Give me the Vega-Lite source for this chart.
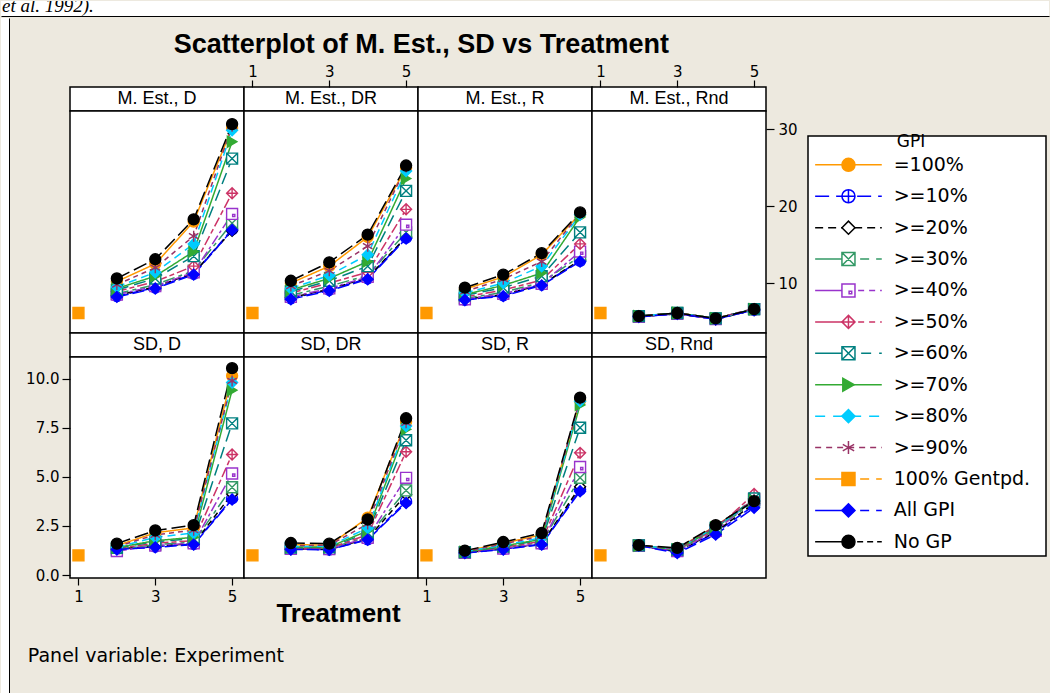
{
 "$schema": "https://vega.github.io/schema/vega-lite/v6.json",
 "background": "#EDE9DF",
 "padding": 0,
 "spacing": 0,
 "config": {
  "font": "DejaVu Sans",
  "view": {"stroke": "black", "strokeWidth": 1.5, "fill": "white"},
  "axis": {"domain": false, "grid": false, "labelFont": "DejaVu Sans", "labelFontSize": 15, "labelColor": "black", "tickColor": "black", "tickWidth": 1.2, "tickSize": 8, "labelPadding": 3, "labelFlush": false, "labelOverlap": false, "titleColor": "black"},
  "title": {"color": "black"}
 },
 "datasets": {
  "notes": [{"note": "et al. 1992)."}],
  "panels": [{"panel": "M. Est., D"}, {"panel": "M. Est., DR"}, {"panel": "M. Est., R"}, {"panel": "M. Est., Rnd"}, {"panel": "SD, D"}, {"panel": "SD, DR"}, {"panel": "SD, R"}, {"panel": "SD, Rnd"}],
  "series": [{"series": "=100%"}, {"series": ">=10%"}, {"series": ">=20%"}, {"series": ">=30%"}, {"series": ">=40%"}, {"series": ">=50%"}, {"series": ">=60%"}, {"series": ">=70%"}, {"series": ">=80%"}, {"series": ">=90%"}, {"series": "100% Gentpd."}, {"series": "All GPI"}, {"series": "No GP"}],
  "main": [
   {"panel":"M. Est., D","series":"100% Gentpd.","treatment":1,"value":6.1},
   {"panel":"M. Est., D","series":"=100%","treatment":2,"value":10.2},{"panel":"M. Est., D","series":"=100%","treatment":3,"value":12.5},{"panel":"M. Est., D","series":"=100%","treatment":4,"value":18.0},{"panel":"M. Est., D","series":"=100%","treatment":5,"value":30.2},
   {"panel":"M. Est., D","series":">=10%","treatment":2,"value":8.3},{"panel":"M. Est., D","series":">=10%","treatment":3,"value":9.4},{"panel":"M. Est., D","series":">=10%","treatment":4,"value":11.2},{"panel":"M. Est., D","series":">=10%","treatment":5,"value":17.0},
   {"panel":"M. Est., D","series":">=20%","treatment":2,"value":8.4},{"panel":"M. Est., D","series":">=20%","treatment":3,"value":9.5},{"panel":"M. Est., D","series":">=20%","treatment":4,"value":11.3},{"panel":"M. Est., D","series":">=20%","treatment":5,"value":16.8},
   {"panel":"M. Est., D","series":">=30%","treatment":2,"value":8.6},{"panel":"M. Est., D","series":">=30%","treatment":3,"value":9.8},{"panel":"M. Est., D","series":">=30%","treatment":4,"value":11.6},{"panel":"M. Est., D","series":">=30%","treatment":5,"value":17.8},
   {"panel":"M. Est., D","series":">=40%","treatment":2,"value":8.5},{"panel":"M. Est., D","series":">=40%","treatment":3,"value":9.6},{"panel":"M. Est., D","series":">=40%","treatment":4,"value":11.4},{"panel":"M. Est., D","series":">=40%","treatment":5,"value":19.0},
   {"panel":"M. Est., D","series":">=50%","treatment":2,"value":8.9},{"panel":"M. Est., D","series":">=50%","treatment":3,"value":10.2},{"panel":"M. Est., D","series":">=50%","treatment":4,"value":12.2},{"panel":"M. Est., D","series":">=50%","treatment":5,"value":21.7},
   {"panel":"M. Est., D","series":">=60%","treatment":2,"value":9.1},{"panel":"M. Est., D","series":">=60%","treatment":3,"value":10.6},{"panel":"M. Est., D","series":">=60%","treatment":4,"value":13.5},{"panel":"M. Est., D","series":">=60%","treatment":5,"value":26.2},
   {"panel":"M. Est., D","series":">=70%","treatment":2,"value":9.3},{"panel":"M. Est., D","series":">=70%","treatment":3,"value":10.9},{"panel":"M. Est., D","series":">=70%","treatment":4,"value":14.1},{"panel":"M. Est., D","series":">=70%","treatment":5,"value":28.4},
   {"panel":"M. Est., D","series":">=80%","treatment":2,"value":9.5},{"panel":"M. Est., D","series":">=80%","treatment":3,"value":11.4},{"panel":"M. Est., D","series":">=80%","treatment":4,"value":15.1},{"panel":"M. Est., D","series":">=80%","treatment":5,"value":29.9},
   {"panel":"M. Est., D","series":">=90%","treatment":2,"value":9.8},{"panel":"M. Est., D","series":">=90%","treatment":3,"value":12.0},{"panel":"M. Est., D","series":">=90%","treatment":4,"value":16.1},{"panel":"M. Est., D","series":">=90%","treatment":5,"value":30.4},
   {"panel":"M. Est., D","series":"All GPI","treatment":2,"value":8.2},{"panel":"M. Est., D","series":"All GPI","treatment":3,"value":9.3},{"panel":"M. Est., D","series":"All GPI","treatment":4,"value":11.1},{"panel":"M. Est., D","series":"All GPI","treatment":5,"value":16.9},
   {"panel":"M. Est., D","series":"No GP","treatment":2,"value":10.6},{"panel":"M. Est., D","series":"No GP","treatment":3,"value":13.1},{"panel":"M. Est., D","series":"No GP","treatment":4,"value":18.3},{"panel":"M. Est., D","series":"No GP","treatment":5,"value":30.7},

   {"panel":"M. Est., DR","series":"100% Gentpd.","treatment":1,"value":6.1},
   {"panel":"M. Est., DR","series":"=100%","treatment":2,"value":10.0},{"panel":"M. Est., DR","series":"=100%","treatment":3,"value":12.2},{"panel":"M. Est., DR","series":"=100%","treatment":4,"value":16.0},{"panel":"M. Est., DR","series":"=100%","treatment":5,"value":25.0},
   {"panel":"M. Est., DR","series":">=10%","treatment":2,"value":8.0},{"panel":"M. Est., DR","series":">=10%","treatment":3,"value":9.1},{"panel":"M. Est., DR","series":">=10%","treatment":4,"value":10.6},{"panel":"M. Est., DR","series":">=10%","treatment":5,"value":15.9},
   {"panel":"M. Est., DR","series":">=20%","treatment":2,"value":8.1},{"panel":"M. Est., DR","series":">=20%","treatment":3,"value":9.2},{"panel":"M. Est., DR","series":">=20%","treatment":4,"value":10.7},{"panel":"M. Est., DR","series":">=20%","treatment":5,"value":16.0},
   {"panel":"M. Est., DR","series":">=30%","treatment":2,"value":8.4},{"panel":"M. Est., DR","series":">=30%","treatment":3,"value":9.6},{"panel":"M. Est., DR","series":">=30%","treatment":4,"value":11.0},{"panel":"M. Est., DR","series":">=30%","treatment":5,"value":16.6},
   {"panel":"M. Est., DR","series":">=40%","treatment":2,"value":8.2},{"panel":"M. Est., DR","series":">=40%","treatment":3,"value":9.3},{"panel":"M. Est., DR","series":">=40%","treatment":4,"value":10.8},{"panel":"M. Est., DR","series":">=40%","treatment":5,"value":17.6},
   {"panel":"M. Est., DR","series":">=50%","treatment":2,"value":8.7},{"panel":"M. Est., DR","series":">=50%","treatment":3,"value":10.0},{"panel":"M. Est., DR","series":">=50%","treatment":4,"value":11.4},{"panel":"M. Est., DR","series":">=50%","treatment":5,"value":19.6},
   {"panel":"M. Est., DR","series":">=60%","treatment":2,"value":8.9},{"panel":"M. Est., DR","series":">=60%","treatment":3,"value":10.3},{"panel":"M. Est., DR","series":">=60%","treatment":4,"value":12.2},{"panel":"M. Est., DR","series":">=60%","treatment":5,"value":22.0},
   {"panel":"M. Est., DR","series":">=70%","treatment":2,"value":9.1},{"panel":"M. Est., DR","series":">=70%","treatment":3,"value":10.6},{"panel":"M. Est., DR","series":">=70%","treatment":4,"value":12.8},{"panel":"M. Est., DR","series":">=70%","treatment":5,"value":23.6},
   {"panel":"M. Est., DR","series":">=80%","treatment":2,"value":9.3},{"panel":"M. Est., DR","series":">=80%","treatment":3,"value":11.0},{"panel":"M. Est., DR","series":">=80%","treatment":4,"value":13.7},{"panel":"M. Est., DR","series":">=80%","treatment":5,"value":24.6},
   {"panel":"M. Est., DR","series":">=90%","treatment":2,"value":9.6},{"panel":"M. Est., DR","series":">=90%","treatment":3,"value":11.6},{"panel":"M. Est., DR","series":">=90%","treatment":4,"value":14.8},{"panel":"M. Est., DR","series":">=90%","treatment":5,"value":25.1},
   {"panel":"M. Est., DR","series":"All GPI","treatment":2,"value":7.9},{"panel":"M. Est., DR","series":"All GPI","treatment":3,"value":9.0},{"panel":"M. Est., DR","series":"All GPI","treatment":4,"value":10.5},{"panel":"M. Est., DR","series":"All GPI","treatment":5,"value":15.8},
   {"panel":"M. Est., DR","series":"No GP","treatment":2,"value":10.3},{"panel":"M. Est., DR","series":"No GP","treatment":3,"value":12.7},{"panel":"M. Est., DR","series":"No GP","treatment":4,"value":16.3},{"panel":"M. Est., DR","series":"No GP","treatment":5,"value":25.3},

   {"panel":"M. Est., R","series":"100% Gentpd.","treatment":1,"value":6.1},
   {"panel":"M. Est., R","series":"=100%","treatment":2,"value":9.2},{"panel":"M. Est., R","series":"=100%","treatment":3,"value":10.8},{"panel":"M. Est., R","series":"=100%","treatment":4,"value":13.7},{"panel":"M. Est., R","series":"=100%","treatment":5,"value":19.0},
   {"panel":"M. Est., R","series":">=10%","treatment":2,"value":7.8},{"panel":"M. Est., R","series":">=10%","treatment":3,"value":8.4},{"panel":"M. Est., R","series":">=10%","treatment":4,"value":9.8},{"panel":"M. Est., R","series":">=10%","treatment":5,"value":12.9},
   {"panel":"M. Est., R","series":">=20%","treatment":2,"value":7.9},{"panel":"M. Est., R","series":">=20%","treatment":3,"value":8.5},{"panel":"M. Est., R","series":">=20%","treatment":4,"value":9.8},{"panel":"M. Est., R","series":">=20%","treatment":5,"value":13.0},
   {"panel":"M. Est., R","series":">=30%","treatment":2,"value":8.0},{"panel":"M. Est., R","series":">=30%","treatment":3,"value":8.8},{"panel":"M. Est., R","series":">=30%","treatment":4,"value":10.1},{"panel":"M. Est., R","series":">=30%","treatment":5,"value":13.5},
   {"panel":"M. Est., R","series":">=40%","treatment":2,"value":7.9},{"panel":"M. Est., R","series":">=40%","treatment":3,"value":8.6},{"panel":"M. Est., R","series":">=40%","treatment":4,"value":9.9},{"panel":"M. Est., R","series":">=40%","treatment":5,"value":14.1},
   {"panel":"M. Est., R","series":">=50%","treatment":2,"value":8.2},{"panel":"M. Est., R","series":">=50%","treatment":3,"value":9.1},{"panel":"M. Est., R","series":">=50%","treatment":4,"value":10.4},{"panel":"M. Est., R","series":">=50%","treatment":5,"value":15.1},
   {"panel":"M. Est., R","series":">=60%","treatment":2,"value":8.4},{"panel":"M. Est., R","series":">=60%","treatment":3,"value":9.4},{"panel":"M. Est., R","series":">=60%","treatment":4,"value":10.9},{"panel":"M. Est., R","series":">=60%","treatment":5,"value":16.6},
   {"panel":"M. Est., R","series":">=70%","treatment":2,"value":8.5},{"panel":"M. Est., R","series":">=70%","treatment":3,"value":9.7},{"panel":"M. Est., R","series":">=70%","treatment":4,"value":11.3},{"panel":"M. Est., R","series":">=70%","treatment":5,"value":18.6},
   {"panel":"M. Est., R","series":">=80%","treatment":2,"value":8.7},{"panel":"M. Est., R","series":">=80%","treatment":3,"value":10.0},{"panel":"M. Est., R","series":">=80%","treatment":4,"value":12.2},{"panel":"M. Est., R","series":">=80%","treatment":5,"value":18.9},
   {"panel":"M. Est., R","series":">=90%","treatment":2,"value":8.9},{"panel":"M. Est., R","series":">=90%","treatment":3,"value":10.5},{"panel":"M. Est., R","series":">=90%","treatment":4,"value":12.8},{"panel":"M. Est., R","series":">=90%","treatment":5,"value":19.1},
   {"panel":"M. Est., R","series":"All GPI","treatment":2,"value":7.8},{"panel":"M. Est., R","series":"All GPI","treatment":3,"value":8.3},{"panel":"M. Est., R","series":"All GPI","treatment":4,"value":9.7},{"panel":"M. Est., R","series":"All GPI","treatment":5,"value":12.8},
   {"panel":"M. Est., R","series":"No GP","treatment":2,"value":9.4},{"panel":"M. Est., R","series":"No GP","treatment":3,"value":11.1},{"panel":"M. Est., R","series":"No GP","treatment":4,"value":13.9},{"panel":"M. Est., R","series":"No GP","treatment":5,"value":19.2},

   {"panel":"M. Est., Rnd","series":"100% Gentpd.","treatment":1,"value":6.1},
   {"panel":"M. Est., Rnd","series":"=100%","treatment":2,"value":5.7},{"panel":"M. Est., Rnd","series":"=100%","treatment":3,"value":6.1},{"panel":"M. Est., Rnd","series":"=100%","treatment":4,"value":5.4},{"panel":"M. Est., Rnd","series":"=100%","treatment":5,"value":6.6},
   {"panel":"M. Est., Rnd","series":">=10%","treatment":2,"value":5.6},{"panel":"M. Est., Rnd","series":">=10%","treatment":3,"value":6.0},{"panel":"M. Est., Rnd","series":">=10%","treatment":4,"value":5.3},{"panel":"M. Est., Rnd","series":">=10%","treatment":5,"value":6.5},
   {"panel":"M. Est., Rnd","series":">=20%","treatment":2,"value":5.6},{"panel":"M. Est., Rnd","series":">=20%","treatment":3,"value":6.0},{"panel":"M. Est., Rnd","series":">=20%","treatment":4,"value":5.3},{"panel":"M. Est., Rnd","series":">=20%","treatment":5,"value":6.5},
   {"panel":"M. Est., Rnd","series":">=30%","treatment":2,"value":5.7},{"panel":"M. Est., Rnd","series":">=30%","treatment":3,"value":6.1},{"panel":"M. Est., Rnd","series":">=30%","treatment":4,"value":5.4},{"panel":"M. Est., Rnd","series":">=30%","treatment":5,"value":6.6},
   {"panel":"M. Est., Rnd","series":">=40%","treatment":2,"value":5.6},{"panel":"M. Est., Rnd","series":">=40%","treatment":3,"value":6.0},{"panel":"M. Est., Rnd","series":">=40%","treatment":4,"value":5.3},{"panel":"M. Est., Rnd","series":">=40%","treatment":5,"value":6.6},
   {"panel":"M. Est., Rnd","series":">=50%","treatment":2,"value":5.7},{"panel":"M. Est., Rnd","series":">=50%","treatment":3,"value":6.1},{"panel":"M. Est., Rnd","series":">=50%","treatment":4,"value":5.4},{"panel":"M. Est., Rnd","series":">=50%","treatment":5,"value":6.6},
   {"panel":"M. Est., Rnd","series":">=60%","treatment":2,"value":5.7},{"panel":"M. Est., Rnd","series":">=60%","treatment":3,"value":6.1},{"panel":"M. Est., Rnd","series":">=60%","treatment":4,"value":5.4},{"panel":"M. Est., Rnd","series":">=60%","treatment":5,"value":6.6},
   {"panel":"M. Est., Rnd","series":">=70%","treatment":2,"value":5.7},{"panel":"M. Est., Rnd","series":">=70%","treatment":3,"value":6.1},{"panel":"M. Est., Rnd","series":">=70%","treatment":4,"value":5.4},{"panel":"M. Est., Rnd","series":">=70%","treatment":5,"value":6.6},
   {"panel":"M. Est., Rnd","series":">=80%","treatment":2,"value":5.7},{"panel":"M. Est., Rnd","series":">=80%","treatment":3,"value":6.1},{"panel":"M. Est., Rnd","series":">=80%","treatment":4,"value":5.4},{"panel":"M. Est., Rnd","series":">=80%","treatment":5,"value":6.6},
   {"panel":"M. Est., Rnd","series":">=90%","treatment":2,"value":5.7},{"panel":"M. Est., Rnd","series":">=90%","treatment":3,"value":6.1},{"panel":"M. Est., Rnd","series":">=90%","treatment":4,"value":5.4},{"panel":"M. Est., Rnd","series":">=90%","treatment":5,"value":6.7},
   {"panel":"M. Est., Rnd","series":"All GPI","treatment":2,"value":5.6},{"panel":"M. Est., Rnd","series":"All GPI","treatment":3,"value":6.0},{"panel":"M. Est., Rnd","series":"All GPI","treatment":4,"value":5.3},{"panel":"M. Est., Rnd","series":"All GPI","treatment":5,"value":6.5},
   {"panel":"M. Est., Rnd","series":"No GP","treatment":2,"value":5.7},{"panel":"M. Est., Rnd","series":"No GP","treatment":3,"value":6.1},{"panel":"M. Est., Rnd","series":"No GP","treatment":4,"value":5.4},{"panel":"M. Est., Rnd","series":"No GP","treatment":5,"value":6.6},

   {"panel":"SD, D","series":"100% Gentpd.","treatment":1,"value":1.0},
   {"panel":"SD, D","series":"=100%","treatment":2,"value":1.50},{"panel":"SD, D","series":"=100%","treatment":3,"value":2.15},{"panel":"SD, D","series":"=100%","treatment":4,"value":2.40},{"panel":"SD, D","series":"=100%","treatment":5,"value":10.14},
   {"panel":"SD, D","series":">=10%","treatment":2,"value":1.28},{"panel":"SD, D","series":">=10%","treatment":3,"value":1.45},{"panel":"SD, D","series":">=10%","treatment":4,"value":1.58},{"panel":"SD, D","series":">=10%","treatment":5,"value":3.90},
   {"panel":"SD, D","series":">=20%","treatment":2,"value":1.32},{"panel":"SD, D","series":">=20%","treatment":3,"value":1.48},{"panel":"SD, D","series":">=20%","treatment":4,"value":1.60},{"panel":"SD, D","series":">=20%","treatment":5,"value":4.13},
   {"panel":"SD, D","series":">=30%","treatment":2,"value":1.30},{"panel":"SD, D","series":">=30%","treatment":3,"value":1.55},{"panel":"SD, D","series":">=30%","treatment":4,"value":1.68},{"panel":"SD, D","series":">=30%","treatment":5,"value":4.47},
   {"panel":"SD, D","series":">=40%","treatment":2,"value":1.22},{"panel":"SD, D","series":">=40%","treatment":3,"value":1.50},{"panel":"SD, D","series":">=40%","treatment":4,"value":1.62},{"panel":"SD, D","series":">=40%","treatment":5,"value":5.17},
   {"panel":"SD, D","series":">=50%","treatment":2,"value":1.35},{"panel":"SD, D","series":">=50%","treatment":3,"value":1.62},{"panel":"SD, D","series":">=50%","treatment":4,"value":1.75},{"panel":"SD, D","series":">=50%","treatment":5,"value":6.14},
   {"panel":"SD, D","series":">=60%","treatment":2,"value":1.38},{"panel":"SD, D","series":">=60%","treatment":3,"value":1.70},{"panel":"SD, D","series":">=60%","treatment":4,"value":1.85},{"panel":"SD, D","series":">=60%","treatment":5,"value":7.72},
   {"panel":"SD, D","series":">=70%","treatment":2,"value":1.40},{"panel":"SD, D","series":">=70%","treatment":3,"value":1.75},{"panel":"SD, D","series":">=70%","treatment":4,"value":1.92},{"panel":"SD, D","series":">=70%","treatment":5,"value":9.41},
   {"panel":"SD, D","series":">=80%","treatment":2,"value":1.42},{"panel":"SD, D","series":">=80%","treatment":3,"value":1.92},{"panel":"SD, D","series":">=80%","treatment":4,"value":2.14},{"panel":"SD, D","series":">=80%","treatment":5,"value":9.80},
   {"panel":"SD, D","series":">=90%","treatment":2,"value":1.45},{"panel":"SD, D","series":">=90%","treatment":3,"value":2.05},{"panel":"SD, D","series":">=90%","treatment":4,"value":2.28},{"panel":"SD, D","series":">=90%","treatment":5,"value":9.88},
   {"panel":"SD, D","series":"All GPI","treatment":2,"value":1.30},{"panel":"SD, D","series":"All GPI","treatment":3,"value":1.41},{"panel":"SD, D","series":"All GPI","treatment":4,"value":1.55},{"panel":"SD, D","series":"All GPI","treatment":5,"value":3.85},
   {"panel":"SD, D","series":"No GP","treatment":2,"value":1.60},{"panel":"SD, D","series":"No GP","treatment":3,"value":2.27},{"panel":"SD, D","series":"No GP","treatment":4,"value":2.54},{"panel":"SD, D","series":"No GP","treatment":5,"value":10.53},

   {"panel":"SD, DR","series":"100% Gentpd.","treatment":1,"value":1.0},
   {"panel":"SD, DR","series":"=100%","treatment":2,"value":1.55},{"panel":"SD, DR","series":"=100%","treatment":3,"value":1.52},{"panel":"SD, DR","series":"=100%","treatment":4,"value":2.92},{"panel":"SD, DR","series":"=100%","treatment":5,"value":7.80},
   {"panel":"SD, DR","series":">=10%","treatment":2,"value":1.32},{"panel":"SD, DR","series":">=10%","treatment":3,"value":1.30},{"panel":"SD, DR","series":">=10%","treatment":4,"value":1.82},{"panel":"SD, DR","series":">=10%","treatment":5,"value":3.75},
   {"panel":"SD, DR","series":">=20%","treatment":2,"value":1.33},{"panel":"SD, DR","series":">=20%","treatment":3,"value":1.31},{"panel":"SD, DR","series":">=20%","treatment":4,"value":1.85},{"panel":"SD, DR","series":">=20%","treatment":5,"value":4.10},
   {"panel":"SD, DR","series":">=30%","treatment":2,"value":1.35},{"panel":"SD, DR","series":">=30%","treatment":3,"value":1.36},{"panel":"SD, DR","series":">=30%","treatment":4,"value":1.95},{"panel":"SD, DR","series":">=30%","treatment":5,"value":4.31},
   {"panel":"SD, DR","series":">=40%","treatment":2,"value":1.33},{"panel":"SD, DR","series":">=40%","treatment":3,"value":1.32},{"panel":"SD, DR","series":">=40%","treatment":4,"value":1.90},{"panel":"SD, DR","series":">=40%","treatment":5,"value":4.95},
   {"panel":"SD, DR","series":">=50%","treatment":2,"value":1.38},{"panel":"SD, DR","series":">=50%","treatment":3,"value":1.37},{"panel":"SD, DR","series":">=50%","treatment":4,"value":2.05},{"panel":"SD, DR","series":">=50%","treatment":5,"value":6.28},
   {"panel":"SD, DR","series":">=60%","treatment":2,"value":1.40},{"panel":"SD, DR","series":">=60%","treatment":3,"value":1.41},{"panel":"SD, DR","series":">=60%","treatment":4,"value":2.15},{"panel":"SD, DR","series":">=60%","treatment":5,"value":6.86},
   {"panel":"SD, DR","series":">=70%","treatment":2,"value":1.42},{"panel":"SD, DR","series":">=70%","treatment":3,"value":1.43},{"panel":"SD, DR","series":">=70%","treatment":4,"value":2.25},{"panel":"SD, DR","series":">=70%","treatment":5,"value":7.42},
   {"panel":"SD, DR","series":">=80%","treatment":2,"value":1.45},{"panel":"SD, DR","series":">=80%","treatment":3,"value":1.47},{"panel":"SD, DR","series":">=80%","treatment":4,"value":2.40},{"panel":"SD, DR","series":">=80%","treatment":5,"value":7.59},
   {"panel":"SD, DR","series":">=90%","treatment":2,"value":1.50},{"panel":"SD, DR","series":">=90%","treatment":3,"value":1.52},{"panel":"SD, DR","series":">=90%","treatment":4,"value":2.60},{"panel":"SD, DR","series":">=90%","treatment":5,"value":7.75},
   {"panel":"SD, DR","series":"All GPI","treatment":2,"value":1.30},{"panel":"SD, DR","series":"All GPI","treatment":3,"value":1.29},{"panel":"SD, DR","series":"All GPI","treatment":4,"value":1.80},{"panel":"SD, DR","series":"All GPI","treatment":5,"value":3.67},
   {"panel":"SD, DR","series":"No GP","treatment":2,"value":1.63},{"panel":"SD, DR","series":"No GP","treatment":3,"value":1.60},{"panel":"SD, DR","series":"No GP","treatment":4,"value":2.83},{"panel":"SD, DR","series":"No GP","treatment":5,"value":7.98},

   {"panel":"SD, R","series":"100% Gentpd.","treatment":1,"value":1.0},
   {"panel":"SD, R","series":"=100%","treatment":2,"value":1.22},{"panel":"SD, R","series":"=100%","treatment":3,"value":1.62},{"panel":"SD, R","series":"=100%","treatment":4,"value":2.05},{"panel":"SD, R","series":"=100%","treatment":5,"value":8.90},
   {"panel":"SD, R","series":">=10%","treatment":2,"value":1.13},{"panel":"SD, R","series":">=10%","treatment":3,"value":1.32},{"panel":"SD, R","series":">=10%","treatment":4,"value":1.58},{"panel":"SD, R","series":">=10%","treatment":5,"value":4.35},
   {"panel":"SD, R","series":">=20%","treatment":2,"value":1.14},{"panel":"SD, R","series":">=20%","treatment":3,"value":1.34},{"panel":"SD, R","series":">=20%","treatment":4,"value":1.60},{"panel":"SD, R","series":">=20%","treatment":5,"value":4.50},
   {"panel":"SD, R","series":">=30%","treatment":2,"value":1.15},{"panel":"SD, R","series":">=30%","treatment":3,"value":1.38},{"panel":"SD, R","series":">=30%","treatment":4,"value":1.66},{"panel":"SD, R","series":">=30%","treatment":5,"value":4.95},
   {"panel":"SD, R","series":">=40%","treatment":2,"value":1.13},{"panel":"SD, R","series":">=40%","treatment":3,"value":1.35},{"panel":"SD, R","series":">=40%","treatment":4,"value":1.62},{"panel":"SD, R","series":">=40%","treatment":5,"value":5.50},
   {"panel":"SD, R","series":">=50%","treatment":2,"value":1.16},{"panel":"SD, R","series":">=50%","treatment":3,"value":1.42},{"panel":"SD, R","series":">=50%","treatment":4,"value":1.72},{"panel":"SD, R","series":">=50%","treatment":5,"value":6.22},
   {"panel":"SD, R","series":">=60%","treatment":2,"value":1.17},{"panel":"SD, R","series":">=60%","treatment":3,"value":1.45},{"panel":"SD, R","series":">=60%","treatment":4,"value":1.78},{"panel":"SD, R","series":">=60%","treatment":5,"value":7.50},
   {"panel":"SD, R","series":">=70%","treatment":2,"value":1.18},{"panel":"SD, R","series":">=70%","treatment":3,"value":1.48},{"panel":"SD, R","series":">=70%","treatment":4,"value":1.82},{"panel":"SD, R","series":">=70%","treatment":5,"value":8.66},
   {"panel":"SD, R","series":">=80%","treatment":2,"value":1.20},{"panel":"SD, R","series":">=80%","treatment":3,"value":1.52},{"panel":"SD, R","series":">=80%","treatment":4,"value":1.90},{"panel":"SD, R","series":">=80%","treatment":5,"value":8.85},
   {"panel":"SD, R","series":">=90%","treatment":2,"value":1.20},{"panel":"SD, R","series":">=90%","treatment":3,"value":1.58},{"panel":"SD, R","series":">=90%","treatment":4,"value":1.98},{"panel":"SD, R","series":">=90%","treatment":5,"value":8.95},
   {"panel":"SD, R","series":"All GPI","treatment":2,"value":1.12},{"panel":"SD, R","series":"All GPI","treatment":3,"value":1.30},{"panel":"SD, R","series":"All GPI","treatment":4,"value":1.55},{"panel":"SD, R","series":"All GPI","treatment":5,"value":4.27},
   {"panel":"SD, R","series":"No GP","treatment":2,"value":1.24},{"panel":"SD, R","series":"No GP","treatment":3,"value":1.68},{"panel":"SD, R","series":"No GP","treatment":4,"value":2.14},{"panel":"SD, R","series":"No GP","treatment":5,"value":9.03},

   {"panel":"SD, Rnd","series":"100% Gentpd.","treatment":1,"value":1.0},
   {"panel":"SD, Rnd","series":"=100%","treatment":2,"value":1.50},{"panel":"SD, Rnd","series":"=100%","treatment":3,"value":1.35},{"panel":"SD, Rnd","series":"=100%","treatment":4,"value":2.50},{"panel":"SD, Rnd","series":"=100%","treatment":5,"value":3.80},
   {"panel":"SD, Rnd","series":">=10%","treatment":2,"value":1.49},{"panel":"SD, Rnd","series":">=10%","treatment":3,"value":1.18},{"panel":"SD, Rnd","series":">=10%","treatment":4,"value":2.15},{"panel":"SD, Rnd","series":">=10%","treatment":5,"value":3.55},
   {"panel":"SD, Rnd","series":">=20%","treatment":2,"value":1.50},{"panel":"SD, Rnd","series":">=20%","treatment":3,"value":1.20},{"panel":"SD, Rnd","series":">=20%","treatment":4,"value":2.20},{"panel":"SD, Rnd","series":">=20%","treatment":5,"value":3.65},
   {"panel":"SD, Rnd","series":">=30%","treatment":2,"value":1.51},{"panel":"SD, Rnd","series":">=30%","treatment":3,"value":1.25},{"panel":"SD, Rnd","series":">=30%","treatment":4,"value":2.30},{"panel":"SD, Rnd","series":">=30%","treatment":5,"value":3.75},
   {"panel":"SD, Rnd","series":">=40%","treatment":2,"value":1.49},{"panel":"SD, Rnd","series":">=40%","treatment":3,"value":1.22},{"panel":"SD, Rnd","series":">=40%","treatment":4,"value":2.25},{"panel":"SD, Rnd","series":">=40%","treatment":5,"value":3.85},
   {"panel":"SD, Rnd","series":">=50%","treatment":2,"value":1.50},{"panel":"SD, Rnd","series":">=50%","treatment":3,"value":1.28},{"panel":"SD, Rnd","series":">=50%","treatment":4,"value":2.35},{"panel":"SD, Rnd","series":">=50%","treatment":5,"value":4.13},
   {"panel":"SD, Rnd","series":">=60%","treatment":2,"value":1.51},{"panel":"SD, Rnd","series":">=60%","treatment":3,"value":1.30},{"panel":"SD, Rnd","series":">=60%","treatment":4,"value":2.40},{"panel":"SD, Rnd","series":">=60%","treatment":5,"value":3.90},
   {"panel":"SD, Rnd","series":">=70%","treatment":2,"value":1.50},{"panel":"SD, Rnd","series":">=70%","treatment":3,"value":1.30},{"panel":"SD, Rnd","series":">=70%","treatment":4,"value":2.42},{"panel":"SD, Rnd","series":">=70%","treatment":5,"value":3.80},
   {"panel":"SD, Rnd","series":">=80%","treatment":2,"value":1.50},{"panel":"SD, Rnd","series":">=80%","treatment":3,"value":1.32},{"panel":"SD, Rnd","series":">=80%","treatment":4,"value":2.45},{"panel":"SD, Rnd","series":">=80%","treatment":5,"value":3.78},
   {"panel":"SD, Rnd","series":">=90%","treatment":2,"value":1.51},{"panel":"SD, Rnd","series":">=90%","treatment":3,"value":1.33},{"panel":"SD, Rnd","series":">=90%","treatment":4,"value":2.48},{"panel":"SD, Rnd","series":">=90%","treatment":5,"value":3.85},
   {"panel":"SD, Rnd","series":"All GPI","treatment":2,"value":1.50},{"panel":"SD, Rnd","series":"All GPI","treatment":3,"value":1.12},{"panel":"SD, Rnd","series":"All GPI","treatment":4,"value":2.06},{"panel":"SD, Rnd","series":"All GPI","treatment":5,"value":3.42},
   {"panel":"SD, Rnd","series":"No GP","treatment":2,"value":1.52},{"panel":"SD, Rnd","series":"No GP","treatment":3,"value":1.38},{"panel":"SD, Rnd","series":"No GP","treatment":4,"value":2.54},{"panel":"SD, Rnd","series":"No GP","treatment":5,"value":3.76}
  ]
 },
 "vconcat": [
  {
   "width": 1048, "height": 15,
   "view": {"fill": "white", "stroke": "transparent"},
   "data": {"name": "notes"},
   "mark": {"type": "text", "align": "left", "baseline": "alphabetic", "font": "Liberation Serif", "fontStyle": "italic", "fontSize": 19, "dx": 1, "dy": 3, "color": "black", "clip": true},
   "encoding": {
    "text": {"field": "note"},
    "x": {"datum": 0, "type": "quantitative", "scale": {"domain": [0, 1]}, "axis": {"orient": "bottom", "domain": true, "domainColor": "black", "domainWidth": 1, "ticks": false, "labels": false, "title": null}}
   }
  },
  {
   "spacing": 14,
   "hconcat": [
    {
     "width": 8, "height": 677,
     "view": {"fill": "white", "stroke": "transparent"},
     "data": {"values": [{}]},
     "mark": {"type": "text", "text": ""},
     "encoding": {"y": {"datum": 0, "type": "quantitative", "scale": {"domain": [0, 1]}, "axis": {"orient": "right", "domain": true, "domainColor": "black", "domainWidth": 1, "ticks": false, "labels": false, "title": null}}}
    },
    {
     "spacing": 11,
     "vconcat": [
      {"width": 1, "height": 1, "view": {"fill": "transparent", "stroke": "transparent"}, "data": {"values": []}, "mark": "point"},
      {
       "spacing": 9,
       "resolve": {"scale": {"strokeDash": "independent"}},
       "title": {"text": "Panel variable: Experiment", "orient": "bottom", "anchor": "start", "font": "DejaVu Sans", "fontSize": 19, "fontWeight": "normal", "color": "black", "offset": 20, "dx": 3},
       "hconcat": [
        {
         "columns": 4,
         "spacing": 0,
         "bounds": "flush",
         "title": {"text": "Scatterplot of M. Est., SD vs Treatment", "font": "Liberation Sans", "fontSize": 27, "fontWeight": "bold", "color": "black", "anchor": "middle", "offset": 4, "dx": 10},
         "concat": [
          {"width": 174, "height": 24, "layer": [
            {"data": {"name": "panels"}, "transform": [{"filter": {"field": "panel", "equal": "M. Est., D"}}], "mark": {"type": "text", "font": "Liberation Sans", "fontSize": 18, "color": "black"}, "encoding": {"text": {"field": "panel"}}},
            {"data": {"name": "main"}, "transform": [{"filter": {"field": "panel", "equal": "M. Est., D"}}], "mark": {"type": "point", "opacity": 0}, "encoding": {"x": {"field": "treatment", "type": "quantitative", "scale": {"domain": [0.78, 5.31], "nice": false, "zero": false}, "axis": null}}}
          ]},
          {"width": 174, "height": 24, "layer": [
            {"data": {"name": "panels"}, "transform": [{"filter": {"field": "panel", "equal": "M. Est., DR"}}], "mark": {"type": "text", "font": "Liberation Sans", "fontSize": 18, "color": "black"}, "encoding": {"text": {"field": "panel"}}},
            {"data": {"name": "main"}, "transform": [{"filter": {"field": "panel", "equal": "M. Est., DR"}}], "mark": {"type": "point", "opacity": 0}, "encoding": {"x": {"field": "treatment", "type": "quantitative", "scale": {"domain": [0.78, 5.31], "nice": false, "zero": false}, "axis": {"orient": "top", "values": [1, 3, 5], "title": null, "tickSize": 7, "labelPadding": 1}}}}
          ]},
          {"width": 174, "height": 24, "layer": [
            {"data": {"name": "panels"}, "transform": [{"filter": {"field": "panel", "equal": "M. Est., R"}}], "mark": {"type": "text", "font": "Liberation Sans", "fontSize": 18, "color": "black"}, "encoding": {"text": {"field": "panel"}}},
            {"data": {"name": "main"}, "transform": [{"filter": {"field": "panel", "equal": "M. Est., R"}}], "mark": {"type": "point", "opacity": 0}, "encoding": {"x": {"field": "treatment", "type": "quantitative", "scale": {"domain": [0.78, 5.31], "nice": false, "zero": false}, "axis": null}}}
          ]},
          {"width": 174, "height": 24, "layer": [
            {"data": {"name": "panels"}, "transform": [{"filter": {"field": "panel", "equal": "M. Est., Rnd"}}], "mark": {"type": "text", "font": "Liberation Sans", "fontSize": 18, "color": "black"}, "encoding": {"text": {"field": "panel"}}},
            {"data": {"name": "main"}, "transform": [{"filter": {"field": "panel", "equal": "M. Est., Rnd"}}], "mark": {"type": "point", "opacity": 0}, "encoding": {"x": {"field": "treatment", "type": "quantitative", "scale": {"domain": [0.78, 5.31], "nice": false, "zero": false}, "axis": {"orient": "top", "values": [1, 3, 5], "title": null, "tickSize": 7, "labelPadding": 1}}}}
          ]},

          {"width": 174, "height": 222, "data": {"name": "main"}, "transform": [{"filter": {"field": "panel", "equal": "M. Est., D"}}],
           "encoding": {"x": {"field": "treatment", "type": "quantitative", "scale": {"domain": [0.78, 5.31], "nice": false, "zero": false}, "axis": null}, "y": {"field": "value", "type": "quantitative", "scale": {"domain": [3.5, 32.4], "nice": false, "zero": false}, "axis": null}},
           "layer": [
            {"mark": {"type": "line", "strokeWidth": 1.5}, "encoding": {"stroke": {"field": "series", "type": "nominal", "scale": {"domain": ["=100%",">=10%",">=20%",">=30%",">=40%",">=50%",">=60%",">=70%",">=80%",">=90%","100% Gentpd.","All GPI","No GP"], "range": ["#FF9900","#0000FF","#000000","#339966","#9933CC","#CC3366","#008080","#33AA33","#00CCFF","#993366","#FF9900","#0000FF","#000000"]}, "legend": null}, "strokeDash": {"field": "series", "type": "nominal", "scale": {"domain": ["=100%",">=10%",">=20%",">=30%",">=40%",">=50%",">=60%",">=70%",">=80%",">=90%","100% Gentpd.","All GPI","No GP"], "range": [[1,0],[9,4],[6,4],[12,4,4,4],[10,3,3,3],[10,3,5,3],[12,6],[1,0],[8,5],[5,4],[12,4,4,4],[12,4],[14,5]]}, "legend": null}}},
            {"mark": {"type": "point", "size": 120, "strokeWidth": 1.4, "opacity": 1}, "encoding": {"shape": {"field": "series", "type": "nominal", "scale": {"domain": ["=100%",">=10%",">=20%",">=30%",">=40%",">=50%",">=60%",">=70%",">=80%",">=90%","100% Gentpd.","All GPI","No GP"], "range": ["circle","M-1,0A1,1,0,1,0,1,0A1,1,0,1,0,-1,0ZM-1,0H1M0,-1V1","diamond","M-1,-1H1V1H-1ZM-1,-1L1,1M-1,1L1,-1","M-1,-1H1V1H-1ZM0.1,0.1H0.5V0.5H0.1Z","M0,-1L1,0L0,1L-1,0ZM-1,0H1M0,-1V1","M-1,-1H1V1H-1ZM-1,-1L1,1M-1,1L1,-1","triangle-right","diamond","M0,-1V1M-0.87,-0.5L0.87,0.5M-0.87,0.5L0.87,-0.5","square","diamond","circle"]}, "legend": null}, "fill": {"field": "series", "type": "nominal", "scale": {"domain": ["=100%",">=10%",">=20%",">=30%",">=40%",">=50%",">=60%",">=70%",">=80%",">=90%","100% Gentpd.","All GPI","No GP"], "range": ["#FF9900","#FFFFFF","#FFFFFF","#FFFFFF","#FFFFFF","#FFFFFF","#FFFFFF","#33AA33","#00CCFF","#FFFFFF","#FF9900","#0000FF","#000000"]}, "legend": null}, "stroke": {"field": "series", "type": "nominal", "scale": {"domain": ["=100%",">=10%",">=20%",">=30%",">=40%",">=50%",">=60%",">=70%",">=80%",">=90%","100% Gentpd.","All GPI","No GP"], "range": ["#FF9900","#0000FF","#000000","#339966","#9933CC","#CC3366","#008080","#33AA33","#00CCFF","#993366","#FF9900","#0000FF","#000000"]}, "legend": null}}}
           ]},
          {"width": 174, "height": 222, "data": {"name": "main"}, "transform": [{"filter": {"field": "panel", "equal": "M. Est., DR"}}],
           "encoding": {"x": {"field": "treatment", "type": "quantitative", "scale": {"domain": [0.78, 5.31], "nice": false, "zero": false}, "axis": null}, "y": {"field": "value", "type": "quantitative", "scale": {"domain": [3.5, 32.4], "nice": false, "zero": false}, "axis": null}},
           "layer": [
            {"mark": {"type": "line", "strokeWidth": 1.5}, "encoding": {"stroke": {"field": "series", "type": "nominal", "legend": null}, "strokeDash": {"field": "series", "type": "nominal", "legend": null}}},
            {"mark": {"type": "point", "size": 120, "strokeWidth": 1.4, "opacity": 1}, "encoding": {"shape": {"field": "series", "type": "nominal", "legend": null}, "fill": {"field": "series", "type": "nominal", "legend": null}, "stroke": {"field": "series", "type": "nominal", "legend": null}}}
           ]},
          {"width": 174, "height": 222, "data": {"name": "main"}, "transform": [{"filter": {"field": "panel", "equal": "M. Est., R"}}],
           "encoding": {"x": {"field": "treatment", "type": "quantitative", "scale": {"domain": [0.78, 5.31], "nice": false, "zero": false}, "axis": null}, "y": {"field": "value", "type": "quantitative", "scale": {"domain": [3.5, 32.4], "nice": false, "zero": false}, "axis": null}},
           "layer": [
            {"mark": {"type": "line", "strokeWidth": 1.5}, "encoding": {"stroke": {"field": "series", "type": "nominal", "legend": null}, "strokeDash": {"field": "series", "type": "nominal", "legend": null}}},
            {"mark": {"type": "point", "size": 120, "strokeWidth": 1.4, "opacity": 1}, "encoding": {"shape": {"field": "series", "type": "nominal", "legend": null}, "fill": {"field": "series", "type": "nominal", "legend": null}, "stroke": {"field": "series", "type": "nominal", "legend": null}}}
           ]},
          {"width": 174, "height": 222, "data": {"name": "main"}, "transform": [{"filter": {"field": "panel", "equal": "M. Est., Rnd"}}],
           "encoding": {"x": {"field": "treatment", "type": "quantitative", "scale": {"domain": [0.78, 5.31], "nice": false, "zero": false}, "axis": null}, "y": {"field": "value", "type": "quantitative", "scale": {"domain": [3.5, 32.4], "nice": false, "zero": false}, "axis": {"orient": "right", "values": [10, 20, 30], "title": null, "labelPadding": 4}}},
           "layer": [
            {"mark": {"type": "line", "strokeWidth": 1.5}, "encoding": {"stroke": {"field": "series", "type": "nominal", "legend": null}, "strokeDash": {"field": "series", "type": "nominal", "legend": null}}},
            {"mark": {"type": "point", "size": 120, "strokeWidth": 1.4, "opacity": 1}, "encoding": {"shape": {"field": "series", "type": "nominal", "legend": null}, "fill": {"field": "series", "type": "nominal", "legend": null}, "stroke": {"field": "series", "type": "nominal", "legend": null}}}
           ]},

          {"width": 174, "height": 24, "layer": [
            {"data": {"name": "panels"}, "transform": [{"filter": {"field": "panel", "equal": "SD, D"}}], "mark": {"type": "text", "font": "Liberation Sans", "fontSize": 18, "color": "black"}, "encoding": {"text": {"field": "panel"}}},
            {"data": {"name": "main"}, "transform": [{"filter": {"field": "panel", "equal": "SD, D"}}], "mark": {"type": "point", "opacity": 0}, "encoding": {"x": {"field": "treatment", "type": "quantitative", "scale": {"domain": [0.78, 5.31], "nice": false, "zero": false}, "axis": null}}}
          ]},
          {"width": 174, "height": 24, "layer": [
            {"data": {"name": "panels"}, "transform": [{"filter": {"field": "panel", "equal": "SD, DR"}}], "mark": {"type": "text", "font": "Liberation Sans", "fontSize": 18, "color": "black"}, "encoding": {"text": {"field": "panel"}}},
            {"data": {"name": "main"}, "transform": [{"filter": {"field": "panel", "equal": "SD, DR"}}], "mark": {"type": "point", "opacity": 0}, "encoding": {"x": {"field": "treatment", "type": "quantitative", "scale": {"domain": [0.78, 5.31], "nice": false, "zero": false}, "axis": null}}}
          ]},
          {"width": 174, "height": 24, "layer": [
            {"data": {"name": "panels"}, "transform": [{"filter": {"field": "panel", "equal": "SD, R"}}], "mark": {"type": "text", "font": "Liberation Sans", "fontSize": 18, "color": "black"}, "encoding": {"text": {"field": "panel"}}},
            {"data": {"name": "main"}, "transform": [{"filter": {"field": "panel", "equal": "SD, R"}}], "mark": {"type": "point", "opacity": 0}, "encoding": {"x": {"field": "treatment", "type": "quantitative", "scale": {"domain": [0.78, 5.31], "nice": false, "zero": false}, "axis": null}}}
          ]},
          {"width": 174, "height": 24, "layer": [
            {"data": {"name": "panels"}, "transform": [{"filter": {"field": "panel", "equal": "SD, Rnd"}}], "mark": {"type": "text", "font": "Liberation Sans", "fontSize": 18, "color": "black"}, "encoding": {"text": {"field": "panel"}}},
            {"data": {"name": "main"}, "transform": [{"filter": {"field": "panel", "equal": "SD, Rnd"}}], "mark": {"type": "point", "opacity": 0}, "encoding": {"x": {"field": "treatment", "type": "quantitative", "scale": {"domain": [0.78, 5.31], "nice": false, "zero": false}, "axis": null}}}
          ]},

          {"width": 174, "height": 221, "data": {"name": "main"}, "transform": [{"filter": {"field": "panel", "equal": "SD, D"}}],
           "encoding": {"x": {"field": "treatment", "type": "quantitative", "scale": {"domain": [0.78, 5.31], "nice": false, "zero": false}, "axis": {"orient": "bottom", "values": [1, 3, 5], "title": null, "tickSize": 7, "labelPadding": 4}}, "y": {"field": "value", "type": "quantitative", "scale": {"domain": [-0.15, 11.1], "nice": false, "zero": false}, "axis": {"orient": "left", "values": [0, 2.5, 5, 7.5, 10], "format": ".1f", "title": null}}},
           "layer": [
            {"mark": {"type": "line", "strokeWidth": 1.5}, "encoding": {"stroke": {"field": "series", "type": "nominal", "legend": null}, "strokeDash": {"field": "series", "type": "nominal", "legend": null}}},
            {"mark": {"type": "point", "size": 120, "strokeWidth": 1.4, "opacity": 1}, "encoding": {"shape": {"field": "series", "type": "nominal", "legend": null}, "fill": {"field": "series", "type": "nominal", "legend": null}, "stroke": {"field": "series", "type": "nominal", "legend": null}}}
           ]},
          {"width": 174, "height": 221, "data": {"name": "main"}, "transform": [{"filter": {"field": "panel", "equal": "SD, DR"}}],
           "encoding": {"x": {"field": "treatment", "type": "quantitative", "scale": {"domain": [0.78, 5.31], "nice": false, "zero": false}, "axis": {"orient": "bottom", "labels": false, "ticks": false, "title": "Treatment", "titleFont": "Liberation Sans", "titleFontSize": 26, "titleFontWeight": "bold", "titlePadding": 22, "titleX": 94}}, "y": {"field": "value", "type": "quantitative", "scale": {"domain": [-0.15, 11.1], "nice": false, "zero": false}, "axis": null}},
           "layer": [
            {"mark": {"type": "line", "strokeWidth": 1.5}, "encoding": {"stroke": {"field": "series", "type": "nominal", "legend": null}, "strokeDash": {"field": "series", "type": "nominal", "legend": null}}},
            {"mark": {"type": "point", "size": 120, "strokeWidth": 1.4, "opacity": 1}, "encoding": {"shape": {"field": "series", "type": "nominal", "legend": null}, "fill": {"field": "series", "type": "nominal", "legend": null}, "stroke": {"field": "series", "type": "nominal", "legend": null}}}
           ]},
          {"width": 174, "height": 221, "data": {"name": "main"}, "transform": [{"filter": {"field": "panel", "equal": "SD, R"}}],
           "encoding": {"x": {"field": "treatment", "type": "quantitative", "scale": {"domain": [0.78, 5.31], "nice": false, "zero": false}, "axis": {"orient": "bottom", "values": [1, 3, 5], "title": null, "tickSize": 7, "labelPadding": 4}}, "y": {"field": "value", "type": "quantitative", "scale": {"domain": [-0.15, 11.1], "nice": false, "zero": false}, "axis": null}},
           "layer": [
            {"mark": {"type": "line", "strokeWidth": 1.5}, "encoding": {"stroke": {"field": "series", "type": "nominal", "legend": null}, "strokeDash": {"field": "series", "type": "nominal", "legend": null}}},
            {"mark": {"type": "point", "size": 120, "strokeWidth": 1.4, "opacity": 1}, "encoding": {"shape": {"field": "series", "type": "nominal", "legend": null}, "fill": {"field": "series", "type": "nominal", "legend": null}, "stroke": {"field": "series", "type": "nominal", "legend": null}}}
           ]},
          {"width": 174, "height": 221, "data": {"name": "main"}, "transform": [{"filter": {"field": "panel", "equal": "SD, Rnd"}}],
           "encoding": {"x": {"field": "treatment", "type": "quantitative", "scale": {"domain": [0.78, 5.31], "nice": false, "zero": false}, "axis": null}, "y": {"field": "value", "type": "quantitative", "scale": {"domain": [-0.15, 11.1], "nice": false, "zero": false}, "axis": null}},
           "layer": [
            {"mark": {"type": "line", "strokeWidth": 1.5}, "encoding": {"stroke": {"field": "series", "type": "nominal", "legend": null}, "strokeDash": {"field": "series", "type": "nominal", "legend": null}}},
            {"mark": {"type": "point", "size": 120, "strokeWidth": 1.4, "opacity": 1}, "encoding": {"shape": {"field": "series", "type": "nominal", "legend": null}, "fill": {"field": "series", "type": "nominal", "legend": null}, "stroke": {"field": "series", "type": "nominal", "legend": null}}}
           ]}
         ]
        },
        {
         "spacing": 0,
         "vconcat": [
          {"width": 10, "height": 44, "view": {"fill": "transparent", "stroke": "transparent"}, "data": {"values": []}, "mark": "point"},
          {
           "width": 238, "height": 420,
           "data": {"name": "series"},
           "title": {"text": "GPI", "font": "DejaVu Sans", "fontSize": 17, "fontWeight": "normal", "color": "black", "offset": -15, "anchor": "middle", "dx": -16},
           "encoding": {"y": {"field": "series", "type": "nominal", "scale": {"type": "point", "domain": ["=100%",">=10%",">=20%",">=30%",">=40%",">=50%",">=60%",">=70%",">=80%",">=90%","100% Gentpd.","All GPI","No GP"], "padding": 0.685, "align": 0.67}, "axis": null}},
           "layer": [
            {"mark": {"type": "rule", "strokeWidth": 1.5}, "encoding": {"x": {"datum": 0.03, "type": "quantitative", "scale": {"domain": [0, 1], "nice": false}, "axis": null}, "x2": {"datum": 0.31}, "stroke": {"field": "series", "type": "nominal", "legend": null}, "strokeDash": {"field": "series", "type": "nominal", "scale": {"domain": ["=100%",">=10%",">=20%",">=30%",">=40%",">=50%",">=60%",">=70%",">=80%",">=90%","100% Gentpd.","All GPI","No GP"], "range": [[1,0],[14,7],[8,5],[38,7,9,7,9,7],[38,5,6,5,6,5,6,5],[38,5,6,5,6,5,6,5],[38,8,10,8],[1,0],[10,8],[6,5],[38,7,9,7,9,7],[38,7,9,7,9,7],[38,4,6,4,6,4,6,4]]}, "legend": null}}},
            {"mark": {"type": "point", "size": 170, "strokeWidth": 1.5, "opacity": 1}, "encoding": {"x": {"datum": 0.17, "type": "quantitative"}, "shape": {"field": "series", "type": "nominal", "legend": null}, "fill": {"field": "series", "type": "nominal", "legend": null}, "stroke": {"field": "series", "type": "nominal", "legend": null}}},
            {"mark": {"type": "text", "align": "left", "baseline": "middle", "font": "DejaVu Sans", "fontSize": 19, "color": "black"}, "encoding": {"x": {"datum": 0.36, "type": "quantitative"}, "text": {"field": "series"}}}
           ]
          }
         ]
        }
       ]
      }
     ]
    }
   ]
  }
 ]
}
